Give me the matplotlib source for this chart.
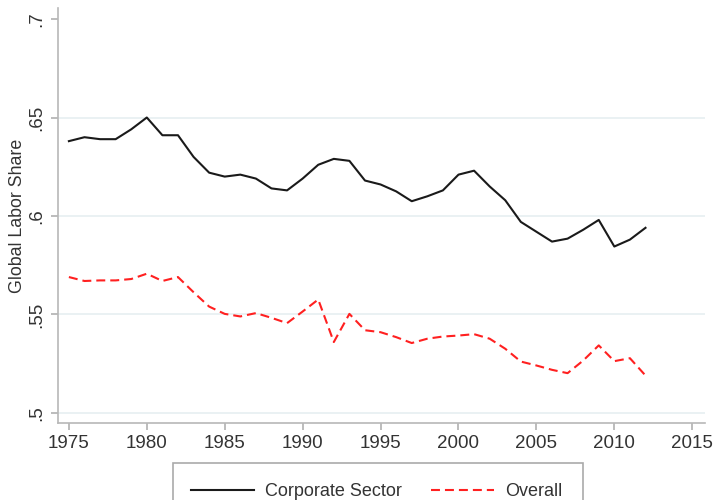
import numpy as np
import matplotlib
matplotlib.use('Agg')
import matplotlib.pyplot as plt
from matplotlib.patches import Rectangle

plt.rcParams['font.family'] = ['Liberation Sans', 'DejaVu Sans']

years = np.arange(1975, 2013)
corporate = [0.638, 0.640, 0.639, 0.639, 0.644, 0.650, 0.641, 0.641, 0.630, 0.622,
             0.620, 0.621, 0.619, 0.614, 0.613, 0.619, 0.626, 0.629, 0.628, 0.618,
             0.616, 0.6125, 0.6075, 0.610, 0.613, 0.621, 0.623, 0.615, 0.608, 0.597,
             0.592, 0.587, 0.5885, 0.593, 0.598, 0.5845, 0.588, 0.594]
overall = [0.569, 0.567, 0.5673, 0.5673, 0.568, 0.5707, 0.567, 0.569, 0.5613, 0.554,
           0.5503, 0.549, 0.5507, 0.5483, 0.5456, 0.5515, 0.5576, 0.536, 0.5503, 0.542,
           0.541, 0.5385, 0.5355, 0.5377, 0.5388, 0.5393, 0.540, 0.5377, 0.5326, 0.5261,
           0.5241, 0.5219, 0.5202, 0.5266, 0.5343, 0.5263, 0.5278, 0.519]
xticks = [1975, 1980, 1985, 1990, 1995, 2000, 2005, 2010, 2015]
yticks = [0.5, 0.55, 0.6, 0.65, 0.7]
ylabels = ['.5', '.55', '.6', '.65', '.7']

fig = plt.figure(figsize=(7.14, 5), dpi=100)
ax = fig.add_axes([0.0812, 0.154, 0.9058, 0.830])

for y in yticks[:-1]:
    ax.axhline(y, color='#e6eff1', lw=1.2, zorder=0)

ax.plot(years, corporate, color='#1a1a1a', lw=1.5, label='Corporate Sector')
ax.plot(years, overall, color='#ff2020', lw=1.5, dashes=(4.3, 2.4), label='Overall')

ax.set_xlim(1974.3, 2015.8)
ax.set_ylim(0.4949, 0.7056)
ax.set_xticks(xticks)
ax.set_yticks(yticks)
ax.set_yticklabels(ylabels, rotation=90, va='center')
ax.tick_params(axis='both', colors='#b0b0b0', labelcolor='#333333', labelsize=13.5,
               length=5, width=1.2, direction='out', pad=4)
ax.set_ylabel('Global Labor Share', fontsize=12.8, color='#333333', labelpad=2)

for s in ['top', 'right']:
    ax.spines[s].set_visible(False)
for s in ['left', 'bottom']:
    ax.spines[s].set_color('#b8b8b8')
    ax.spines[s].set_linewidth(1.2)

# legend box (bottom runs off the figure as in the source)
fig.patches.append(Rectangle((173 / 714, -0.05), 410 / 714, 0.124, transform=fig.transFigure,
                             fill=False, edgecolor='#aaaaaa', lw=1.2))
handles, labels = ax.get_legend_handles_labels()
fig.legend(handles, labels, loc='center left', bbox_to_anchor=(0.255, 0.016), ncol=2,
           frameon=False, fontsize=13, handlelength=3.5, handletextpad=0.6,
           columnspacing=1.6, borderpad=0.0, labelcolor='#333333')

fig.savefig('out.png', dpi=100)
